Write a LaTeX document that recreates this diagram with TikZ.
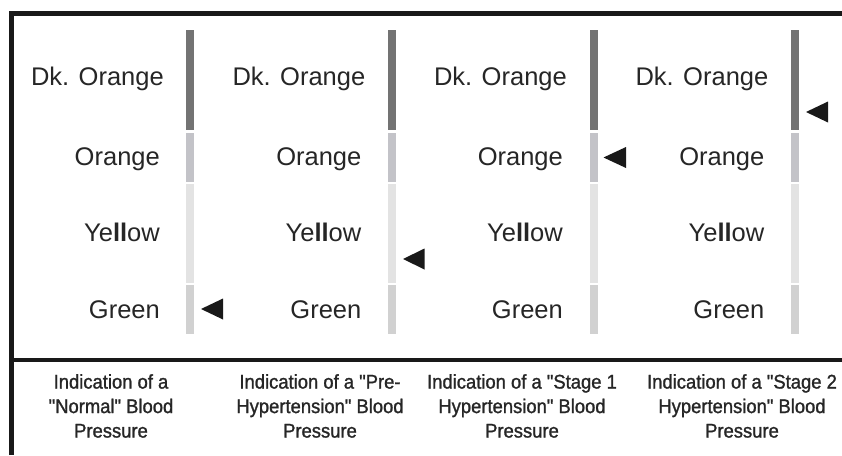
\documentclass[tikz,border=0pt]{standalone}
\usepackage{fontspec}
\setmainfont{Liberation Sans}
\newfontfamily\capfont{Liberation Sans}[FakeStretch=0.93,FakeBold=1.2]
\newcommand\qq{\symbol{34}}
\begin{document}
\begin{tikzpicture}[x=1pt,y=-1pt,
  lbl/.style={anchor=base east,inner sep=0pt,text=black!85,font=\fontsize{25.5}{30}\selectfont},
  capt/.style={anchor=north,inner sep=0pt,align=center,text=black!85,font=\capfont\fontsize{19.8}{24.5}\selectfont},
  seg/.style={draw=none},
  tri/.style={fill=black!90,draw=none},
  frame/.style={line width=5pt,draw=black!90}]
\useasboundingbox (0,0) rectangle (842,455);
\fill[white] (0,0) rectangle (842,455);
% frame
\draw[frame] (11.5,455) -- (11.5,13.5) -- (842,13.5);
\draw[line width=4.5pt,draw=black!90] (11.5,360) -- (842,360);
% bars and labels
\foreach \i in {0,1,2,3}{
  \pgfmathsetmacro{\bx}{186.3+201.6*\i}
  \fill[seg,fill=black!55] (\bx,30) rectangle ++(8,100);
  \fill[seg,fill={rgb,255:red,195;green,195;blue,200}] (\bx,133) rectangle ++(8,49);
  \fill[seg,fill=black!11] (\bx,184) rectangle ++(8,99);
  \fill[seg,fill=black!18] (\bx,285) rectangle ++(8,49);
  \pgfmathsetmacro{\lx}{160+201.5*\i}
  \pgfmathsetmacro{\dx}{164+201.5*\i}
  \node[lbl] (dk\i) at (\dx,85) {Dk. Orange};
  \node[lbl] (or\i) at (\lx,165) {Orange};
  \node[lbl] (ye\i) at (\lx,241.5) {Ye\textbf{ll}ow};
  \node[lbl] (gr\i) at (\lx,318) {Green};
}
% indicator triangles
\fill[tri] (201,309) -- (223,298.5) -- (223,319.5) -- cycle;
\fill[tri] (403,259) -- (424.5,248.5) -- (424.5,269.5) -- cycle;
\fill[tri] (603.5,157.5) -- (626,147) -- (626,168) -- cycle;
\fill[tri] (806,112) -- (828,101.5) -- (828,122.5) -- cycle;
% captions
\node[capt] (c0) at (111,374) {Indication of a\\\qq Normal\qq{} Blood\\Pressure};
\node[capt] (c1) at (320,374) {Indication of a \qq Pre-\\Hypertension\qq{} Blood\\Pressure};
\node[capt] (c2) at (522,374) {Indication of a \qq Stage 1\\Hypertension\qq{} Blood\\Pressure};
\node[capt] (c3) at (742,374) {Indication of a \qq Stage 2\\Hypertension\qq{} Blood\\Pressure};
\end{tikzpicture}
\end{document}
